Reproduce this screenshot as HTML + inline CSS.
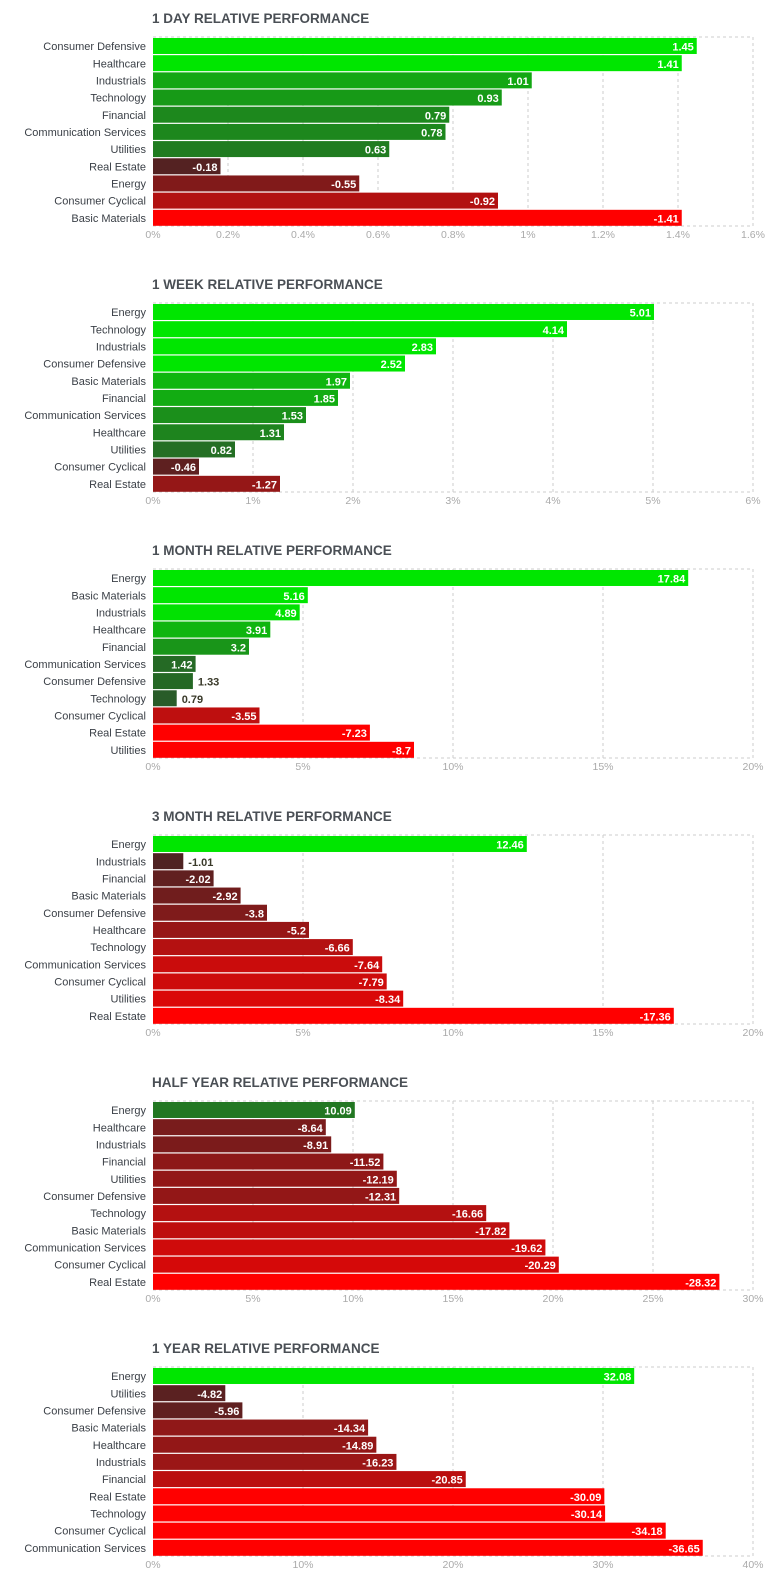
<!DOCTYPE html>
<html><head><meta charset="utf-8">
<style>
body{margin:0;background:#fff;width:782px;height:1583px;overflow:hidden;font-family:"Liberation Sans",sans-serif;}
svg{display:block}
</style></head>
<body>
<svg id="c" width="782" height="1583"></svg>
<script>
const titles=["1 DAY RELATIVE PERFORMANCE","1 WEEK RELATIVE PERFORMANCE","1 MONTH RELATIVE PERFORMANCE","3 MONTH RELATIVE PERFORMANCE","HALF YEAR RELATIVE PERFORMANCE","1 YEAR RELATIVE PERFORMANCE"];
const cats1D=["Consumer Defensive","Healthcare","Industrials","Technology","Financial","Communication Services","Utilities","Real Estate","Energy","Consumer Cyclical","Basic Materials"];
const vals1D=[1.45,1.41,1.01,0.93,0.79,0.78,0.63,-0.18,-0.55,-0.92,-1.41];
const cats1W=["Energy","Technology","Industrials","Consumer Defensive","Basic Materials","Financial","Communication Services","Healthcare","Utilities","Consumer Cyclical","Real Estate"];
const vals1W=[5.01,4.14,2.83,2.52,1.97,1.85,1.53,1.31,0.82,-0.46,-1.27];
const cats1M=["Energy","Basic Materials","Industrials","Healthcare","Financial","Communication Services","Consumer Defensive","Technology","Consumer Cyclical","Real Estate","Utilities"];
const vals1M=[17.84,5.16,4.89,3.91,3.2,1.42,1.33,0.79,-3.55,-7.23,-8.7];
const cats3M=["Energy","Industrials","Financial","Basic Materials","Consumer Defensive","Healthcare","Technology","Communication Services","Consumer Cyclical","Utilities","Real Estate"];
const vals3M=[12.46,-1.01,-2.02,-2.92,-3.8,-5.2,-6.66,-7.64,-7.79,-8.34,-17.36];
const catsHY=["Energy","Healthcare","Industrials","Financial","Utilities","Consumer Defensive","Technology","Basic Materials","Communication Services","Consumer Cyclical","Real Estate"];
const valsHY=[10.09,-8.64,-8.91,-11.52,-12.19,-12.31,-16.66,-17.82,-19.62,-20.29,-28.32];
const cats1Y=["Energy","Utilities","Consumer Defensive","Basic Materials","Healthcare","Industrials","Financial","Real Estate","Technology","Consumer Cyclical","Communication Services"];
const vals1Y=[32.08,-4.82,-5.96,-14.34,-14.89,-16.23,-20.85,-30.09,-30.14,-34.18,-36.65];
const ticks1D=["0%","0.2%","0.4%","0.6%","0.8%","1%","1.2%","1.4%","1.6%"];
const ticks1W=["0%","1%","2%","3%","4%","5%","6%"];
const ticks1M=["0%","5%","10%","15%","20%"];
const ticks3M=["0%","5%","10%","15%","20%"];
const ticksHY=["0%","5%","10%","15%","20%","25%","30%"];
const ticks1Y=["0%","10%","20%","30%","40%"];
const maxes=[1.6,6,20,20,30,40];
const caps=[1.4,2.5,5,10,25,30];
const charts=[[cats1D,vals1D,ticks1D],[cats1W,vals1W,ticks1W],[cats1M,vals1M,ticks1M],[cats3M,vals3M,ticks3M],[catsHY,valsHY,ticksHY],[cats1Y,vals1Y,ticks1Y]];
const NS="http://www.w3.org/2000/svg";
const svg=document.getElementById('c');
function mk(t,a,p){const e=document.createElementNS(NS,t);for(const k in a)e.setAttribute(k,a[k]);(p||svg).appendChild(e);return e;}
function lerp(a,b,t){return a.map((x,i)=>Math.round(x+(b[i]-x)*t));}
function col(v,cap){let t=Math.min(1,Math.abs(v)/cap);let s=v>=0?[[45,75,45],[28,140,28],[0,230,0]]:[[62,38,38],[165,20,20],[255,0,0]];let c=t<0.6?lerp(s[0],s[1],t/0.6):lerp(s[1],s[2],(t-0.6)/0.4);return`rgb(${c})`;}
const L=153,W=600;
charts.forEach((ch,k)=>{
 const [cats,vals,ticks]=ch;const max=maxes[k];const top=37+266*k,H=189,rh=H/cats.length;
 const x=v=>L+Math.abs(v)/max*W;
 const g=mk('g',{});
 
 
 const tt=mk('text',{x:152,y:top-14,'font-size':13.5,'font-weight':'bold',fill:'#4a4f55'},g);tt.textContent=titles[k];
 
 
 ticks.forEach((lab,i)=>{const xx=L+i*W/(ticks.length-1);
  if(i>0){const ln=mk('line',{x1:xx,x2:xx,y1:top,y2:top+H,stroke:'#ccc','stroke-dasharray':'3,3'},g);
  
  }
  const tx=mk('text',{x:xx,y:top+H+12,'font-size':10.5,fill:'#aaa','text-anchor':'middle'},g);tx.textContent=lab;
  
  });
 const bd=mk('line',{x1:L,x2:L+W,y1:top,y2:top,stroke:'#ccc','stroke-dasharray':'3,3'},g);
 
 
 const bb=mk('line',{x1:L,x2:L+W,y1:top+H,y2:top+H,stroke:'#ccc','stroke-dasharray':'3,3'},g);
 
 
 cats.forEach((c,i)=>{const v=vals[i];const y=top+1+i*rh;const xe=x(v);
  const r=mk('rect',{x:L,y:y,width:xe-L,height:rh-1.2,fill:col(v,caps[k])},g);
  
  
  const lb=mk('text',{x:146,y:y+rh/2+3.5,'font-size':11,fill:'#3b4047','text-anchor':'end'},g);lb.textContent=c;
  
  
  const inside=(xe-L)>40;
  const vl=mk('text',{x:inside?xe-3:xe+5,y:y+rh/2+4,'font-size':11,'font-weight':'bold',fill:inside?'#fff':'#3a3a2a','text-anchor':inside?'end':'start'},g);vl.textContent=String(v);
  
  });
});
</script>
</body></html>
